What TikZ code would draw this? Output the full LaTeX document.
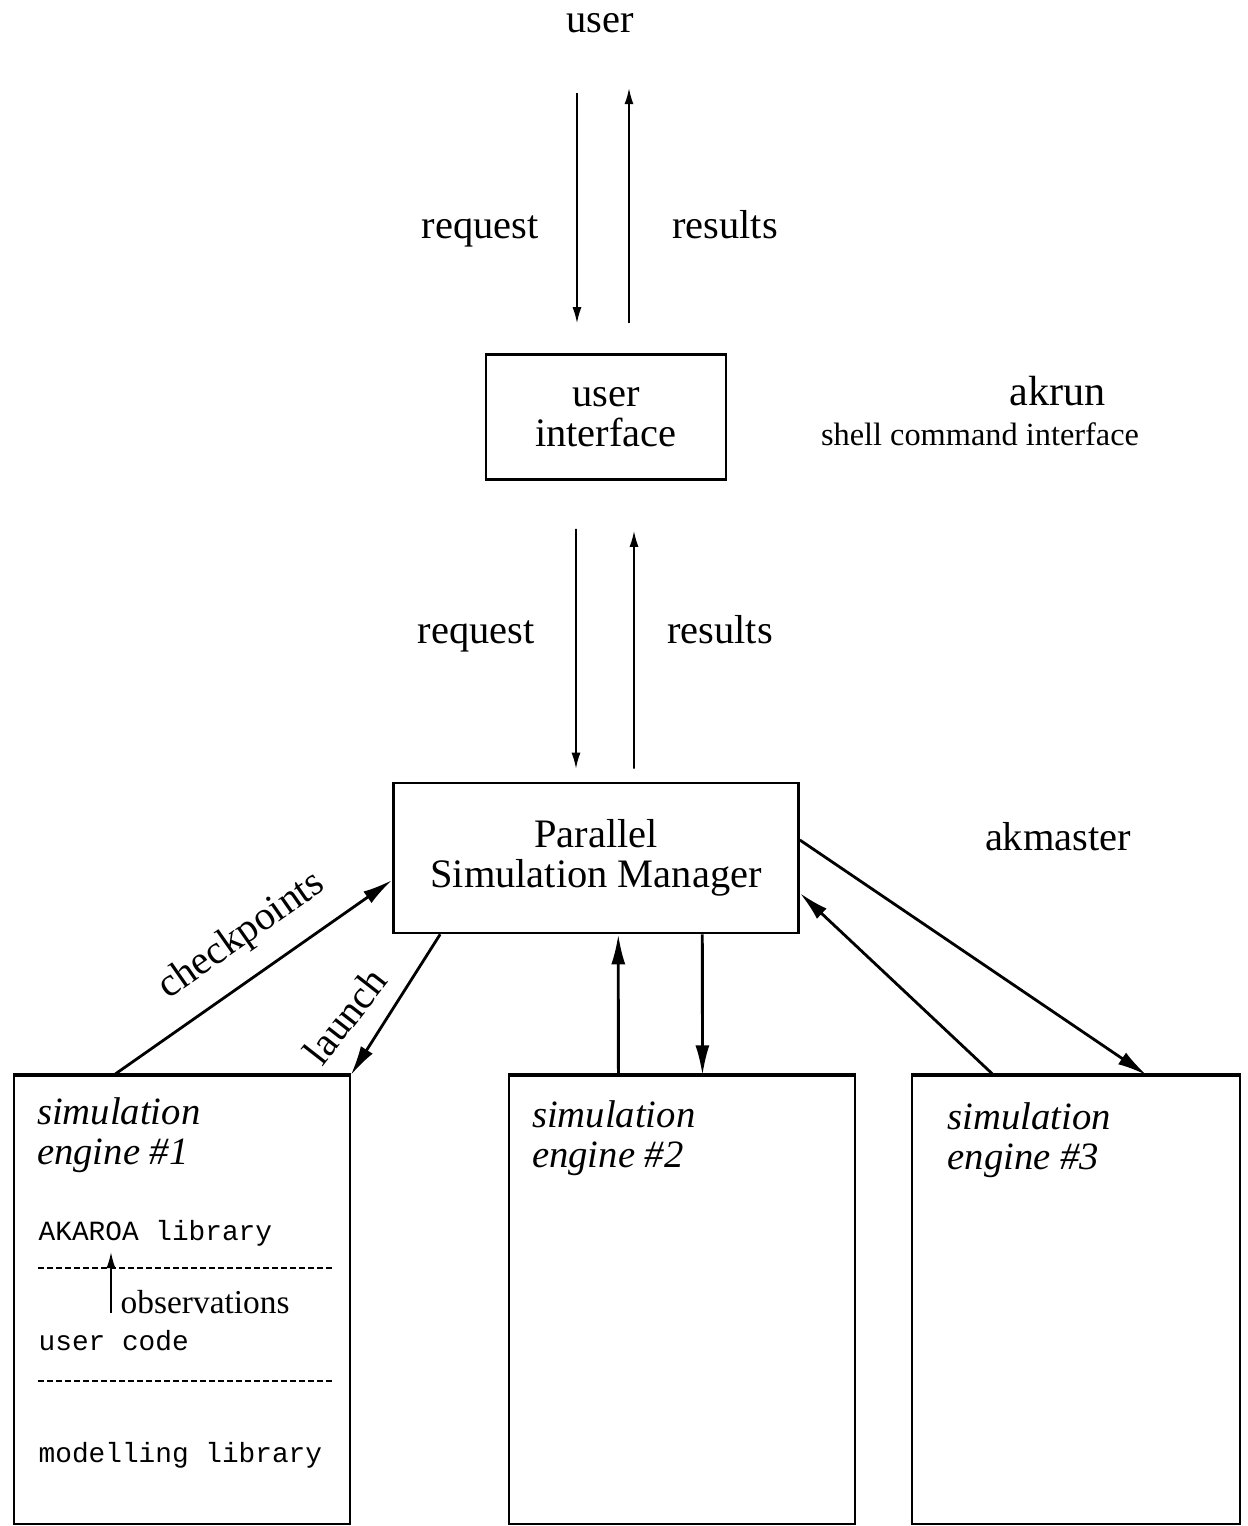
\documentclass[tikz,border=0pt]{standalone}
\usepackage{fontspec}
\setmainfont{Liberation Serif}
\setmonofont{Liberation Mono}
\usepackage{tikz}
\usetikzlibrary{arrows.meta}

\begin{document}
\begin{tikzpicture}[x=0.01cm,y=-0.01cm,
  box/.style={draw, line width=0.7pt, inner sep=0pt},
  engine/.style={draw, line width=0.6pt, minimum height=4.47cm, inner sep=0pt},
  txt/.style={font=\fontsize{11.5}{11.4}\selectfont, inner sep=0pt},
  eng/.style={font=\fontsize{11}{11.4}\selectfont\itshape, inner sep=0pt, anchor=north west, align=left},
  code/.style={font=\fontsize{7.9}{7.9}\selectfont\ttfamily, inner sep=0pt, anchor=base west},
  flow/.style={line width=0.5pt, -{Latex[length=0.16cm,width=0.09cm]}},
  link/.style={line width=0.8pt, -{Latex[length=0.3cm,width=0.14cm]}},
  divider/.style={line width=0.6pt, dash pattern=on 0.06cm off 0.03cm}]
\useasboundingbox (0,0) rectangle (1248,1526);

% Boxes
\node[txt, anchor=base] (usr) at (600,32) {user};
\node[box, txt, align=center, minimum width=2.4cm, minimum height=1.25cm] (ui) at (606,417) {user\\interface};
\node[box, txt, align=center, minimum width=4.05cm, minimum height=1.5cm] (psm) at (596,858) {Parallel\\Simulation Manager};
\node[engine, minimum width=3.35cm] (e1) at (182,1300) {};
\node[engine, minimum width=3.45cm] (e2) at (682,1300) {};
\node[engine, minimum width=3.28cm] (e3) at (1076,1300) {};
\foreach \e in {e1,e2,e3}
  \draw[line width=1.2pt] (\e.north west) -- (\e.north east);

% Labels
\node[txt, anchor=base] (reqa) at (480,238) {request};
\node[txt, anchor=base] (resa) at (725,238) {results};
\node[txt, anchor=base] (reqb) at (476,643) {request};
\node[txt, anchor=base] (resb) at (720,643) {results};
\node[txt, anchor=base, font=\fontsize{12}{12}\selectfont] (akrun) at (1058,405) {akrun};
\node[txt, anchor=base, font=\fontsize{9.2}{9.2}\selectfont] (shell) at (980,445) {shell command interface};
\node[txt, anchor=base] (akmaster) at (1058,850) {akmaster};
\node[txt, rotate=35] (chk) at (242,936) {checkpoints};
\node[txt, rotate=52] (lau) at (345,1016) {launch};

% Engines
\node[eng] (t1) at ([xshift=0.23cm,yshift=-0.22cm]e1.north west) {simulation\\engine \#1};
\node[eng] (t2) at ([xshift=0.23cm,yshift=-0.25cm]e2.north west) {simulation\\engine \#2};
\node[eng] (t3) at ([xshift=0.36cm,yshift=-0.27cm]e3.north west) {simulation\\engine \#3};
\node[code] (akaroa) at (38,1240) {AKAROA library};
\node[txt, anchor=base west, font=\fontsize{9.5}{9.5}\selectfont] (obs) at (120,1313) {observations};
\node[code] (ucode) at (38,1350) {user code};
\node[code] (mlib) at (38,1462) {modelling library};
\draw[divider] (38,1268) -- (335,1268);
\draw[divider] (38,1381) -- (335,1381);
\coordinate (obsfoot) at ([xshift=-0.09cm]obs.base west);
\draw[flow, shorten >=0.12cm] (obsfoot) -- (obsfoot |- akaroa.base);

%Lines
\draw[flow] ([xshift=-0.29cm,yshift=2.6cm]ui.north) -- ([xshift=-0.29cm,yshift=0.3cm]ui.north);
\draw[flow] ([xshift=0.23cm,yshift=0.3cm]ui.north) -- ([xshift=0.23cm,yshift=2.65cm]ui.north);
\draw[flow] ([xshift=-0.3cm,yshift=-0.48cm]ui.south) -- ([xshift=-0.2cm,yshift=0.13cm]psm.north);
\draw[flow] ([xshift=0.38cm,yshift=0.13cm]psm.north) -- ([xshift=0.28cm,yshift=-0.5cm]ui.south);
\draw[link] ([xshift=1cm]e1.north west) -- ([yshift=-0.22cm]psm.west);
\draw[link] ([xshift=0.48cm]psm.south west) -- (e1.north east);
\draw[link] ([xshift=1.1cm]e2.north west) -- ([xshift=2.26cm]psm.south west);
\draw[link] ([xshift=3.1cm]psm.south west) -- ([xshift=1.94cm]e2.north west);
\draw[link] ([xshift=0.83cm]e3.north west) -- ([yshift=-0.35cm]psm.east);
\draw[link] ([yshift=0.18cm]psm.east) -- ([xshift=2.36cm]e3.north west);
\end{tikzpicture}
\end{document}
